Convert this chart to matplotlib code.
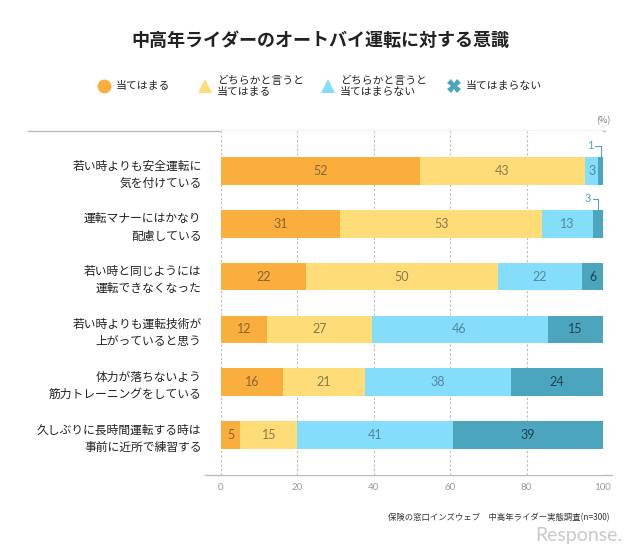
import numpy as np
import matplotlib
matplotlib.use("Agg")
import matplotlib.pyplot as plt

plt.rcParams['font.family'] = ['Noto Sans CJK JP', 'DejaVu Sans']

title = "中高年ライダーのオートバイ運転に対する意識"
categories = [
    "若い時よりも安全運転に\n気を付けている",
    "運転マナーにはかなり\n配慮している",
    "若い時と同じようには\n運転できなくなった",
    "若い時よりも運転技術が\n上がっていると思う",
    "体力が落ちないよう\n筋力トレーニングをしている",
    "久しぶりに長時間運転する時は\n事前に近所で練習する",
]
series_names = ["当てはまる", "どちらかと言うと\n当てはまる",
                "どちらかと言うと\n当てはまらない", "当てはまらない"]
# shares (%); labels show rounded values
applies = [52.0, 31.2, 22.3, 12.0, 16.2, 5.0]
rather_applies = [43.4, 52.9, 50.1, 27.4, 21.4, 15.0]
rather_not = [3.3, 13.3, 22.1, 46.1, 38.4, 40.7]
not_applies = [1.3, 2.6, 5.6, 14.6, 24.0, 39.3]
x_ticks = [0, 20, 40, 60, 80, 100]
source = "保険の窓口インズウェブ　中高年ライダー実態調査(n=300)"

colors = ["#F9AE3E", "#FEDD79", "#84DDFA", "#4BA6BD"]
text_colors = ["#8A6535", "#8C7848", "#55889E", "#1E4452"]
markers = ["o", "^", "^", "X"]

W, H = 640, 548
fig = plt.figure(figsize=(W / 100, H / 100), dpi=100)

top_px, bot_px = 131, 475
ax = fig.add_axes([221 / W, 1 - bot_px / H, 382 / W, (bot_px - top_px) / H])
data = [applies, rather_applies, rather_not, not_applies]
y = np.arange(len(categories))
left = np.zeros(len(categories))
for i, vals in enumerate(data):
    vals = np.array(vals, dtype=float)
    ax.barh(y, vals, left=left, height=0.52, color=colors[i], zorder=2)
    for r in range(len(categories)):
        xc = left[r] + vals[r] / 2
        if i == 3 and vals[r] < 3:
            # small value: label outside with a bracket
            ax.text(xc - 1.9, r - 0.48, f"{vals[r]:.0f}", ha="right", va="center",
                    fontsize=8, color="#4BA6BD", family=["Lato", "DejaVu Sans"])
            ax.plot([xc - 1.4, xc, xc], [r - 0.48, r - 0.48, r - 0.26],
                    color="#4BA6BD", lw=0.8, zorder=3, clip_on=False)
        else:
            ax.text(xc, r, f"{vals[r]:.0f}", ha="center", va="center", fontsize=9,
                    color=text_colors[i], family=["Lato", "DejaVu Sans"], zorder=3)
    left += vals

ax.set_xlim(0, 100)
ax.set_ylim(5.76, -0.76)
ax.set_xticks(x_ticks)
ax.set_xticklabels([str(t) for t in x_ticks], color="#999999", fontsize=7,
                   family=["Lato", "DejaVu Sans"])
ax.tick_params(axis="x", length=0, pad=6)
ax.set_yticks(y)
ax.set_yticklabels(categories, fontsize=8.5, color="#222222", linespacing=1.4)
ax.tick_params(axis="y", length=0, pad=14)
ax.grid(axis="x", linestyle=(0, (2, 2)), color="#BBBBBB", lw=0.8, zorder=0)
for s in ax.spines.values():
    s.set_visible(False)

# overlay for title, legend and rules
ov = fig.add_axes([0, 0, 1, 1], zorder=-1)
ov.set_xlim(0, W)
ov.set_ylim(H, 0)
ov.axis("off")
ov.plot([28, 605], [top_px, top_px], color="#BBBBBB", lw=1.0)
ov.plot([205, 612], [bot_px, bot_px], color="#BBBBBB", lw=1.0)

fig.text(0.5, 1 - 40 / H, title, ha="center", va="center", fontsize=13,
         fontweight="bold", color="#222222")
fig.text(603 / W, 1 - 121 / H, "(%)", ha="center", va="center", fontsize=6.5,
         color="#777777")

leg_x = [116, 217, 340, 466]
for i, name in enumerate(series_names):
    ov.plot(leg_x[i] - 12, 86, marker=markers[i], color=colors[i], markersize=10,
            markeredgewidth=0, linestyle="none")
    ov.text(leg_x[i], 86, name, ha="left", va="center", fontsize=7.8,
            color="#222222", linespacing=1.15)

fig.text(610 / W, 1 - 518 / H, source, ha="right", va="center", fontsize=6,
         color="#333333")
fig.text(622 / W, 1 - 536 / H, "Response.", ha="right", va="center", fontsize=14,
         color="#C8C8C8", family=["Lato", "DejaVu Sans"], zorder=-2)

fig.savefig("out.png", dpi=100)
